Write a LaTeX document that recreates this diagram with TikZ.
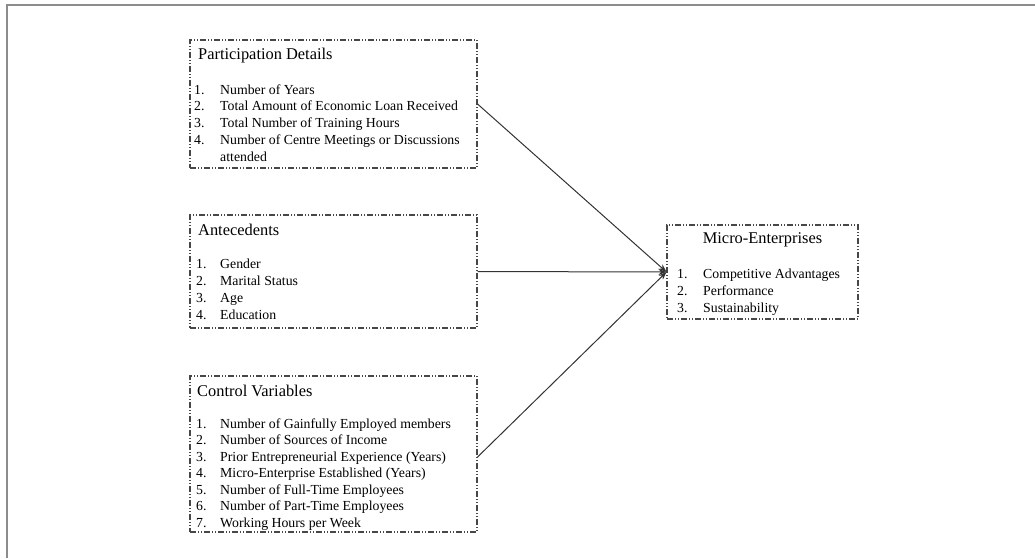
\documentclass[tikz,border=0pt]{standalone}
\usepackage{fontspec}
\setmainfont{Liberation Serif}
\usetikzlibrary{arrows.meta,calc}
\begin{document}
\begin{tikzpicture}[x=1pt,y=-1pt,
 boxframe/.style={draw=black!72, line width=1.1pt, dash pattern=on 6pt off 2pt on 1pt off 2pt on 1pt off 2pt, inner sep=0pt},
 ttl/.style={anchor=base west, inner sep=0pt, font=\fontsize{16.4}{19}\selectfont, text=black},
 itm/.style={anchor=base west, inner sep=0pt, font=\fontsize{13.8}{16}\selectfont, text=black},
 conn/.style={draw=black!80, line width=1pt, -{Stealth[length=8pt,width=6pt]}}
]
\useasboundingbox (0,0) rectangle (1035,558);
\draw[black!45, line width=1.5pt] (7,558) -- (7,5) -- (1035,5);

% boxes
\node[boxframe, minimum width=287pt, minimum height=128pt] (P) at (333.5,104) {};
\node[boxframe, minimum width=287pt, minimum height=113pt] (A) at (333.5,271.5) {};
\node[boxframe, minimum width=287pt, minimum height=156pt] (C) at (333.5,454) {};
\node[boxframe, minimum width=191pt, minimum height=94pt] (M) at (762.5,272) {};

% Participation Details
\node[ttl] (Pt) at (198,59) {Participation Details};
\node[itm] (Pn1) at (194,94) {1.};   \node[itm] (Pi1) at (220,94) {Number of Years};
\node[itm] (Pn2) at (194,110.8) {2.}; \node[itm] (Pi2) at (220,110.8) {Total Amount of Economic Loan Received};
\node[itm] (Pn3) at (194,127.6) {3.}; \node[itm] (Pi3) at (220,127.6) {Total Number of Training Hours};
\node[itm] (Pn4) at (194,144.4) {4.}; \node[itm] (Pi4) at (220,144.4) {Number of Centre Meetings or Discussions};
\node[itm] (Pi5) at (220,161.2) {attended};

% Antecedents
\node[ttl] (At) at (198,235) {Antecedents};
\node[itm] (An1) at (196,268) {1.};   \node[itm] (Ai1) at (220,268) {Gender};
\node[itm] (An2) at (196,285) {2.};   \node[itm] (Ai2) at (220,285) {Marital Status};
\node[itm] (An3) at (196,302) {3.};   \node[itm] (Ai3) at (220,302) {Age};
\node[itm] (An4) at (196,319) {4.};   \node[itm] (Ai4) at (220,319) {Education};

% Control Variables
\node[ttl] (Ct) at (197,396) {Control Variables};
\node[itm] (Cn1) at (196,428) {1.};   \node[itm] (Ci1) at (220,428) {Number of Gainfully Employed members};
\node[itm] (Cn2) at (196,444.5) {2.}; \node[itm] (Ci2) at (220,444.5) {Number of Sources of Income};
\node[itm] (Cn3) at (196,461) {3.};   \node[itm] (Ci3) at (220,461) {Prior Entrepreneurial Experience (Years)};
\node[itm] (Cn4) at (196,477.5) {4.}; \node[itm] (Ci4) at (220,477.5) {Micro-Enterprise Established (Years)};
\node[itm] (Cn5) at (196,494) {5.};   \node[itm] (Ci5) at (220,494) {Number of Full-Time Employees};
\node[itm] (Cn6) at (196,510.5) {6.}; \node[itm] (Ci6) at (220,510.5) {Number of Part-Time Employees};
\node[itm] (Cn7) at (196,527) {7.};   \node[itm] (Ci7) at (220,527) {Working Hours per Week};

% Micro-Enterprises
\node[ttl, anchor=base] (Mt) at (762.5,243) {Micro-Enterprises};
\node[itm] (Mn1) at (677,278) {1.};   \node[itm] (Mi1) at (703,278) {Competitive Advantages};
\node[itm] (Mn2) at (677,295) {2.};   \node[itm] (Mi2) at (703,295) {Performance};
\node[itm] (Mn3) at (677,312) {3.};   \node[itm] (Mi3) at (703,312) {Sustainability};

% connectors
\draw[conn] (P.east) -- (M.west);
\draw[conn] (A.east) -- (M.west);
\draw[conn] ([yshift=-3pt]C.east) -- (M.west);
\end{tikzpicture}
\end{document}
